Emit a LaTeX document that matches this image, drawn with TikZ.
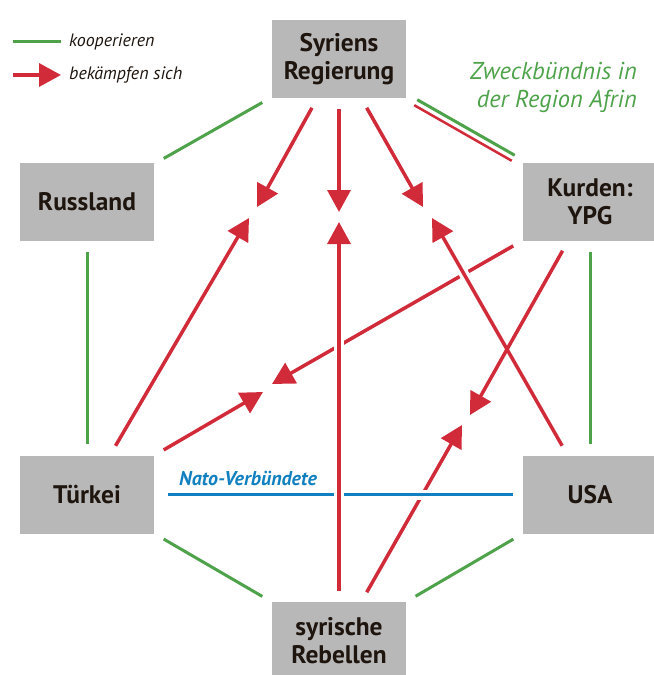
\documentclass[tikz,border=0pt]{standalone}
\usepackage{fontspec}
\setmainfont{PT Sans}
\usepackage{tikz}
\usetikzlibrary{arrows.meta,calc,positioning}

\definecolor{boxgray}{RGB}{185,184,185}
\definecolor{inkbrown}{RGB}{30,21,14}
\definecolor{coopgreen}{RGB}{77,162,74}
\definecolor{fightred}{RGB}{209,43,58}
\definecolor{natoblue}{RGB}{16,128,192}

\begin{document}
\begin{tikzpicture}[x=1bp,y=-1bp]
          %% Konflikt in Syrien

          \tikzstyle{party}=[fill=boxgray,text=inkbrown,minimum width=134bp,minimum height=78bp,inner sep=0pt,align=center,font=\fontsize{25.5}{28}\selectfont\bfseries]
          \tikzstyle{coop}=[draw=coopgreen,line width=3bp,shorten <=11bp,shorten >=11bp]
          \tikzstyle{fight}=[draw=fightred,line width=3.5bp,-{Triangle[length=22bp,width=23bp]},shorten <=11bp]
          \tikzstyle{cut}=[preaction={draw=white,line width=10bp,-,shorten >=40bp}]
          \tikzstyle{legend}=[text=inkbrown,inner sep=0pt,font=\fontsize{18}{22}\selectfont\itshape]

          \useasboundingbox (0,0) rectangle (654,675);

          % Parteien
          \node[party] (syr) at (339,59) {Syriens\\Regierung};
          \node[party] (rus) at (87,202) {Russland};
          \node[party] (kur) at (590,202) {Kurden:\\YPG};
          \node[party] (tur) at (87,494.5) {Türkei};
          \node[party] (usa) at (590,494.5) {USA};
          \node[party] (reb) at (339,641) {syrische\\Rebellen};

          % Pfeilspitzen in der Mitte
          \coordinate (hitSyrL) at (257,207);
          \coordinate (hitSyrM) at (339,212);
          \coordinate (hitSyrR) at (423,207);
          \coordinate (hitTurS) at (249,218);
          \coordinate (hitRebM) at (339,222);
          \coordinate (hitUsaS) at (432,218);
          \coordinate (hitKurT) at (272,384);
          \coordinate (hitTurK) at (263,392);
          \coordinate (hitKurR) at (470,415);
          \coordinate (hitRebK) at (462,425);

          % kooperieren
          \path (syr) edge[coop] (rus)
          (rus) edge[coop] (tur)
          (kur) edge[coop] (usa)
          (tur) edge[coop] (reb)
          (usa) edge[coop] (reb);

          % Zweckbuendnis
          \draw[coop,transform canvas={shift={(1.5bp,3bp)}}] (syr) -- (kur);
          \draw[coop,draw=fightred,line width=2.5bp,transform canvas={shift={(-1.5bp,-2.5bp)}}] (syr) -- (kur);
          \node[anchor=north east,align=right,inner sep=0pt,text=coopgreen,
            font=\fontsize{24.5}{28}\selectfont\itshape] (afrin) at (637,62)
          {Zweckbündnis in\\der Region Afrin};

          % bekaempfen sich
          \draw[fight] (syr) -- (hitSyrL);
          \draw[fight] (syr) -- (hitSyrM);
          \draw[fight] (syr) -- (hitSyrR);
          \draw[fight] (tur) -- (hitTurS);
          \draw[fight] (kur) -- (hitKurT);
          \draw[fight] (tur) -- (hitTurK);
          \draw[fight,cut] (usa) -- (hitUsaS);
          \draw[fight] (kur) -- (hitKurR);
          \draw[fight] (reb) -- (hitRebK);

          % Nato
          \draw[draw=natoblue,line width=3bp,shorten <=14bp,shorten >=10bp,
            preaction={draw=white,line width=10bp,shorten <=14bp,shorten >=10bp}]
          (tur) -- (usa);
          \node[anchor=base west,inner sep=0pt,text=natoblue,
            font=\fontsize{20}{24}\selectfont\bfseries\itshape] (nato) at (179,485)
          {Nato-Verbündete};

          \draw[fight,cut] (reb) -- (hitRebM);

          % Legende
          \coordinate (coopA) at (13,42);
          \coordinate (coopB) at (61,42);
          \coordinate (fightA) at (13,75);
          \coordinate (fightB) at (61,75);
          \draw[coop,shorten <=0pt,shorten >=0pt] (coopA) -- (coopB);
          \draw[fight,shorten <=0pt] (fightA) -- (fightB);
          \node[legend,anchor=west] (coopText) at (69,42) {kooperieren};
          \node[legend,anchor=west] (fightText) at (69,75) {bekämpfen sich};
        \end{tikzpicture}
\end{document}
